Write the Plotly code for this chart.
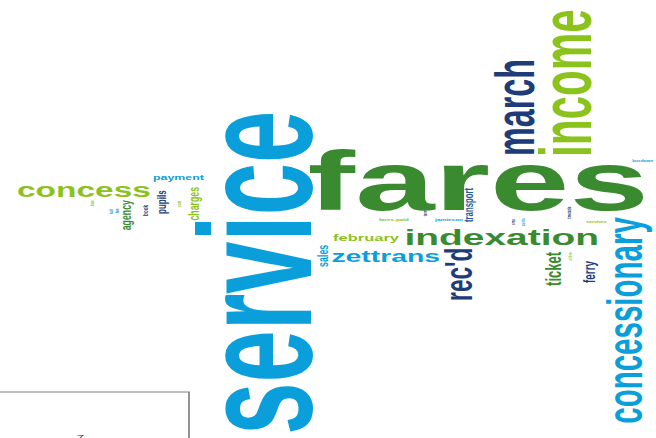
import plotly.graph_objects as go

# ---------------- data: words and their (estimated) weights ----------------
words = ["service", "fares", "income", "march", "concessionary", "indexation",
         "concess", "zettrans", "february", "rec'd", "ticket", "ferry",
         "payment", "pupils", "charges", "agency", "sales", "transport",
         "book", "jamieson", "fares-paid",
         "bus", "rail", "fee", "cost",
         "sms", "timetable", "services", "airline",
         "busdown", "cards", "term"]
counts = [94, 84, 42.2, 32.3, 29.5, 22.9, 19.7, 16.7, 9.7, 22.6, 13, 10,
          7.3, 8, 8.8, 8.8, 8.9, 7.8, 4.6, 3.8, 3.7,
          3.3, 3.3, 3.0, 3.3,
          3.0, 2.8, 3.0, 2.8,
          2.8, 2.8, 2.8]

# ---------------- placement (word-cloud layout) ----------------
# a: centre along the reading direction, b: baseline position across it (reference px)
CYAN, GREEN, LIME, NAVY = "#0A9FDB", "#3A8A2F", "#8CC21C", "#1E3C78"
place_a = [273, 479, 82.5, 107.5, 320.5, 501,
           84.3, 385, 366, 274, 268.3, 272,
           180, 201.7, 203.3, 215, 256, 205,
           210, 449, 395,
           203, 212, 210, 203,
           222, 213, 596, 256,
           643, 222, 213]
place_b = [310, 210.5, 591.5, 533, 641.5, 245,
           196.5, 262, 240.5, 472, 561, 594,
           180, 166.5, 199.5, 131.5, 328, 472,
           147, 221, 221,
           94, 113, 119, 181,
           515, 571, 223, 572,
           162, 525, 427]
angles = [-90, 0, -90, -90, -90, 0,
          0, 0, 0, -90, -90, -90,
          0, -90, -90, -90, -90, -90,
          -90, 0, 0,
          -90, -90, -90, -90,
          -90, -90, 0, -90,
          0, -90, -90]
colors = [CYAN, GREEN, LIME, NAVY, CYAN, GREEN,
          LIME, CYAN, LIME, NAVY, GREEN, NAVY,
          CYAN, NAVY, LIME, GREEN, CYAN, "#2E5C9A",
          NAVY, CYAN, LIME,
          LIME, CYAN, CYAN, LIME,
          NAVY, NAVY, LIME, LIME,
          CYAN, CYAN, NAVY]

W_REF, H_REF = 656, 438
W_FIG = 386                      # drawn narrow, then stretched horizontally
S = W_REF / W_FIG
FONT = "Liberation Sans, Arial, Helvetica, sans-serif"
BASE_OFF = 0.3465                # box centre above baseline, in em

fig = go.Figure()
fig.add_trace(go.Scatter(x=[0, W_REF], y=[0, H_REF], mode="markers",
                         marker=dict(opacity=0), hoverinfo="skip", showlegend=False))

for w, c, a, b, ang, col in zip(words, counts, place_a, place_b, angles, colors):
    fs = c
    if ang == 0:
        x, y = a, b - BASE_OFF * fs
    else:
        x, y = b - BASE_OFF * fs * S, a
    fig.add_annotation(x=x, y=y, xref="x", yref="y", text=w, showarrow=False,
                       textangle=ang, xanchor="center", yanchor="middle",
                       font=dict(family=FONT, size=fs, color=col, weight="bold"))

# frame of a caption box cut off at the bottom-left corner
fig.add_shape(type="rect", xref="x", yref="y", x0=-10, x1=189, y0=392, y1=470,
              line=dict(color="#808080", width=1), fillcolor="rgba(0,0,0,0)")
fig.add_annotation(x=80, y=437.9, xref="x", yref="y", text="7", showarrow=False,
                   xanchor="center", yanchor="middle",
                   font=dict(family=FONT, size=8, color="#333333"))

fig.update_layout(width=W_FIG, height=H_REF, margin=dict(l=0, r=0, t=0, b=0, pad=0),
                  paper_bgcolor="white", plot_bgcolor="white", showlegend=False)
fig.update_xaxes(range=[0, W_REF], visible=False, fixedrange=True)
fig.update_yaxes(range=[H_REF, 0], visible=False, fixedrange=True)

post = """
document.body.style.margin = '0';
document.body.style.overflow = 'hidden';
var gd = document.getElementById('{plot_id}');
gd.style.transformOrigin = '0 0';
gd.style.transform = 'scaleX(%f)';
""" % S

fig.write_html("out.html", config={"displayModeBar": False}, post_script=post)
